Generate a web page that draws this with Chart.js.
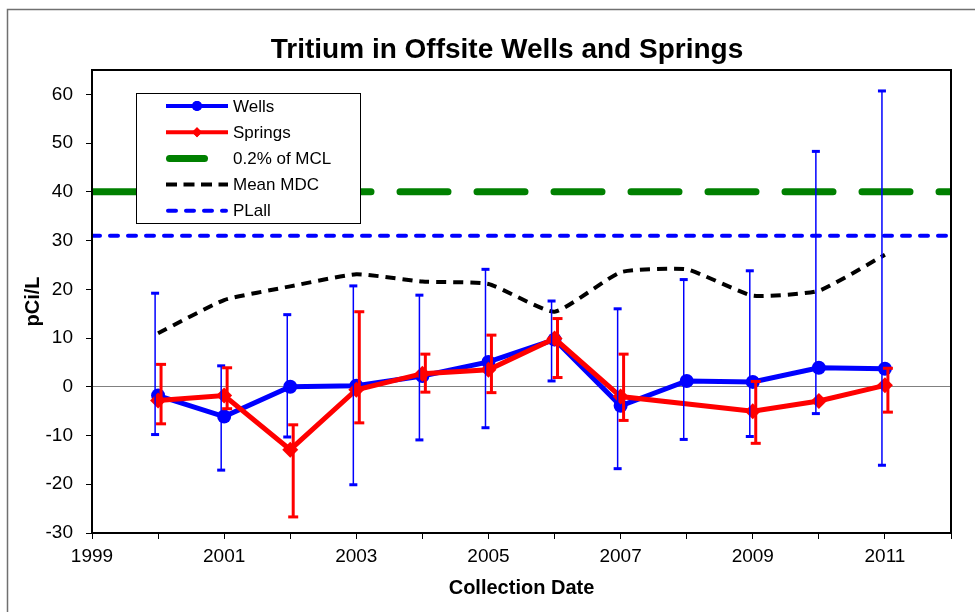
<!DOCTYPE html>
<html>
<head>
<meta charset="utf-8">
<script src="https://cdn.jsdelivr.net/npm/chart.js@4.4.0/dist/chart.umd.min.js"></script>
<style>
  html, body { margin: 0; padding: 0; background: #fff; }
  #wrap { width: 975px; height: 612px; position: relative; }
</style>
</head>
<body>
<div id="wrap"><canvas id="chart"></canvas></div>
<script>
// Chart data
const years = [2000, 2001, 2002, 2003, 2004, 2005, 2006, 2007, 2008, 2009, 2010, 2011];

const wells = [-1.8, -6.1, 0.0, 0.2, 2.2, 5.1, 9.7, -3.9, 1.2, 1.0, 3.9, 3.7];
const wellsUpper = [19.2, 4.3, 14.8, 20.7, 18.8, 24.1, 17.6, 16.0, 22.0, 23.8, 48.3, 60.7];
const wellsLower = [-9.8, -17.1, -10.3, -20.1, -10.9, -8.4, 1.2, -16.8, -10.8, -10.2, -5.5, -16.1];

const springs = [-2.8, -1.8, -12.9, -0.6, 2.7, 3.5, 9.9, -2.0, null, -5.0, -2.9, 0.3];
const springsUpper = [4.6, 3.9, -7.8, 15.4, 6.7, 10.6, 14.0, 6.7, null, 1.1, null, 3.8];
const springsLower = [-7.6, -4.5, -26.7, -7.4, -1.1, -1.2, 1.9, -6.9, null, -11.6, null, -5.2];

const meanMdc = [11.0, 17.8, 20.6, 23.1, 21.6, 21.1, 15.4, 23.5, 24.1, 18.7, 19.7, 27.1];

const mclLevel = 40;
const plallLevel = 31;
const dateRange = [1999, 2012];
const yTicks = [-30, -20, -10, 0, 10, 20, 30, 40, 50, 60];

const FONT = "'Liberation Sans', Arial, sans-serif";

function toPoints(values) {
  return years.map((yr, i) => ({ x: yr, y: values[i] }));
}

// Vertical error bars with caps
const errorBarPlugin = {
  id: 'errorBars',
  afterDatasetsDraw(chart) {
    const { ctx, scales: { x, y } } = chart;
    chart.data.datasets.forEach(ds => {
      const eb = ds.errorBars;
      if (!eb) return;
      ctx.save();
      ctx.strokeStyle = ds.borderColor;
      ctx.fillStyle = ds.borderColor;
      years.forEach((yr, i) => {
        const hi = eb.upper[i];
        const lo = eb.lower[i];
        if (hi == null || lo == null) return;
        const px = x.getPixelForValue(yr + eb.shift);
        const top = y.getPixelForValue(hi);
        const bot = y.getPixelForValue(lo);
        ctx.lineWidth = eb.width;
        ctx.beginPath();
        ctx.moveTo(px, top);
        ctx.lineTo(px, bot);
        ctx.stroke();
        ctx.fillRect(px - eb.cap / 2, top - 1.5, eb.cap, 3);
        ctx.fillRect(px - eb.cap / 2, bot - 1.5, eb.cap, 3);
      });
      ctx.restore();
    });
  }
};

// Frame, title, plot border and the boxed legend
const decorPlugin = {
  id: 'decor',
  beforeDraw(chart) {
    const ctx = chart.ctx;
    ctx.save();
    ctx.strokeStyle = '#707070';
    ctx.lineWidth = 1.5;
    ctx.strokeRect(7.5, 9.5, 1100, 800);
    ctx.restore();
  },
  afterDraw(chart) {
    const { ctx, chartArea: a } = chart;
    ctx.save();

    // plot area border
    ctx.strokeStyle = '#000';
    ctx.lineWidth = 2;
    ctx.strokeRect(a.left, a.top, a.right - a.left, a.bottom - a.top);

    // title
    ctx.fillStyle = '#000';
    ctx.font = 'bold 28px ' + FONT;
    ctx.textAlign = 'center';
    ctx.textBaseline = 'alphabetic';
    ctx.fillText('Tritium in Offsite Wells and Springs', 507, 58);

    // legend
    const box = { left: 136, top: 93, w: 224, h: 130 };
    ctx.fillStyle = '#fff';
    ctx.fillRect(box.left, box.top, box.w, box.h);
    ctx.strokeStyle = '#000';
    ctx.lineWidth = 1;
    ctx.strokeRect(box.left + 0.5, box.top + 0.5, box.w, box.h);

    chart.data.datasets.forEach((ds, i) => {
      const yy = 106 + i * 26.2;
      const x0 = 166;
      const x1 = ds.legendShort ? 208 : 228;
      ctx.save();
      ctx.strokeStyle = ds.borderColor;
      ctx.lineWidth = ds.legendWidth || ds.borderWidth;
      ctx.lineCap = ds.borderCapStyle || 'butt';
      ctx.setLineDash(ds.legendDash || []);
      ctx.beginPath();
      ctx.moveTo(x0 + (ctx.lineCap === 'round' ? ctx.lineWidth / 2 : 0), yy);
      ctx.lineTo(x1 - (ctx.lineCap === 'round' ? ctx.lineWidth / 2 : 0), yy);
      ctx.stroke();
      ctx.restore();
      if (ds.pointRadius > 0) {
        ctx.fillStyle = ds.borderColor;
        Chart.helpers.drawPoint(ctx, { pointStyle: ds.pointStyle, radius: 5, borderWidth: 0 }, 197, yy);
        ctx.fill();
      }
      ctx.fillStyle = '#000';
      ctx.font = '17px ' + FONT;
      ctx.textAlign = 'left';
      ctx.textBaseline = 'middle';
      ctx.fillText(ds.label, 233, yy + 1);
    });
    ctx.restore();
  }
};

const ctx = document.getElementById('chart').getContext('2d');
const chart = new Chart(ctx, {
  type: 'line',
  data: {
    datasets: [
      {
        label: 'Wells',
        data: toPoints(wells),
        borderColor: '#0000FF',
        backgroundColor: '#0000FF',
        borderWidth: 5,
        pointStyle: 'circle',
        pointRadius: 7,
        pointBorderWidth: 0,
        tension: 0,
        order: 2,
        legendWidth: 4,
        errorBars: { upper: wellsUpper, lower: wellsLower, shift: -0.045, width: 1.5, cap: 8 }
      },
      {
        label: 'Springs',
        data: toPoints(springs),
        borderColor: '#FF0000',
        backgroundColor: '#FF0000',
        borderWidth: 5,
        pointStyle: 'rectRot',
        pointRadius: 8,
        pointBorderWidth: 0,
        spanGaps: true,
        tension: 0,
        order: 1,
        legendWidth: 4,
        errorBars: { upper: springsUpper, lower: springsLower, shift: 0.045, width: 3, cap: 10 }
      },
      {
        label: '0.2% of MCL',
        data: [{ x: dateRange[0], y: mclLevel }, { x: dateRange[1], y: mclLevel }],
        borderColor: '#008000',
        borderWidth: 7,
        borderDash: [48, 29],
        borderCapStyle: 'round',
        pointRadius: 0,
        clip: 0,
        order: 5,
        legendShort: true,
        legendWidth: 7
      },
      {
        label: 'Mean MDC',
        data: toPoints(meanMdc),
        borderColor: '#000000',
        borderWidth: 4,
        borderDash: [10, 7],
        pointRadius: 0,
        tension: 0.15,
        order: 3,
        legendWidth: 4,
        legendDash: [11, 6.5]
      },
      {
        label: 'PLall',
        data: [{ x: dateRange[0], y: plallLevel }, { x: dateRange[1], y: plallLevel }],
        borderColor: '#0000FF',
        borderWidth: 4,
        borderDash: [8, 10],
        borderCapStyle: 'round',
        pointRadius: 0,
        clip: 0,
        order: 4,
        legendWidth: 4,
        legendDash: [8, 10]
      }
    ]
  },
  options: {
    responsive: true,
    maintainAspectRatio: false,
    animation: false,
    events: [],
    layout: { padding: { left: 15, right: 24, top: 70, bottom: 0 } },
    plugins: {
      legend: { display: false },
      title: { display: false },
      tooltip: { enabled: false }
    },
    scales: {
      x: {
        type: 'linear',
        min: dateRange[0],
        max: dateRange[1],
        ticks: {
          stepSize: 1,
          autoSkip: false,
          maxRotation: 0,
          color: '#000',
          font: { family: FONT, size: 19 },
          padding: 6,
          callback: v => (v % 2 === 1 ? String(v) : '')
        },
        grid: { drawOnChartArea: false, tickLength: 6, tickColor: '#000', tickWidth: 1 },
        border: { color: '#000', width: 2 },
        title: {
          display: true,
          text: 'Collection Date',
          color: '#000',
          font: { family: FONT, size: 20, weight: 'bold' },
          padding: { top: 0, bottom: 12 }
        },
        afterFit: s => { s.height = 79; }
      },
      y: {
        type: 'linear',
        min: -30,
        max: 65,
        afterBuildTicks: s => { s.ticks = yTicks.map(v => ({ value: v })); },
        ticks: {
          color: '#000',
          font: { family: FONT, size: 19 },
          padding: 13
        },
        grid: {
          drawOnChartArea: true,
          color: c => (c.tick && c.tick.value === 0 ? '#808080' : 'rgba(0,0,0,0)'),
          lineWidth: 1,
          tickColor: '#000',
          tickLength: 6
        },
        border: { color: '#000', width: 2 },
        title: {
          display: true,
          text: 'pCi/L',
          color: '#000',
          font: { family: FONT, size: 20, weight: 'bold' },
          padding: { top: 6, bottom: 0 }
        },
        afterFit: s => { s.width = 77; }
      }
    }
  },
  plugins: [errorBarPlugin, decorPlugin]
});
</script>
</body>
</html>
